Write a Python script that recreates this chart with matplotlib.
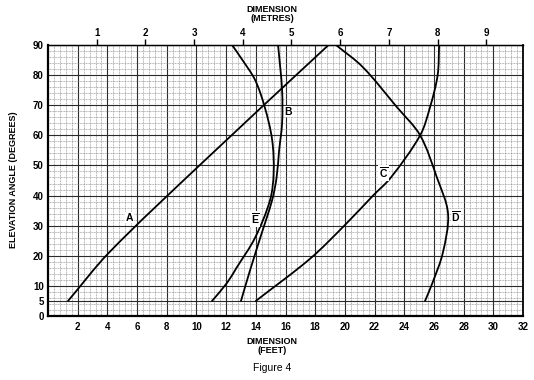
import numpy as np
import matplotlib
matplotlib.use("Agg")
import matplotlib.pyplot as plt
from matplotlib.path import Path
from matplotlib.patches import PathPatch
from matplotlib.ticker import FixedLocator, MultipleLocator

plt.rcParams['font.family'] = ['Liberation Sans', 'DejaVu Sans']
plt.rcParams['mathtext.fontset'] = 'custom'
plt.rcParams['mathtext.bf'] = 'Liberation Sans:bold'
plt.rcParams['mathtext.rm'] = 'Liberation Sans'

# curve data: (dimension in feet, elevation angle in degrees)
a_ft = [1.35, 4.1, 10.2, 18.9]
a_deg = [5, 21, 50, 90]

b_ft = [13.0, 13.6, 14.3, 15.1, 15.4, 15.57, 15.77, 15.77, 15.5]
b_deg = [5, 15, 26, 38.5, 46, 55, 64, 75, 90]

c_ft = [14.0, 17.65, 20.0, 21.9, 23.1, 25.07, 25.74, 26.25, 26.35]
c_deg = [5, 19, 30.2, 40, 46, 60, 69.4, 80, 90]

d_ft = [25.4, 25.9, 26.6, 26.95, 26.2, 25.07, 23.5, 21.2, 19.4]
d_deg = [5, 11, 21, 34, 46, 60, 69.4, 82.7, 90]

e_ft = [11.05, 12.06, 12.7, 13.95, 14.96, 15.2, 15.1, 14.6, 13.95, 13.1, 12.4]
e_deg = [5, 11, 16, 26, 38.5, 47.5, 58.5, 69.4, 78.4, 85, 90]

# curve labels and where they sit
label_names = ['A', 'B', r'$\overline{\mathbf{C}}$', r'$\overline{\mathbf{D}}$', r'$\overline{\mathbf{E}}$']
label_ft = [5.5, 16.2, 22.6, 27.5, 13.95]
label_deg = [32.6, 67.8, 47.5, 33.0, 32.2]

ft_ticks = list(range(2, 33, 2))
deg_ticks = [0, 5, 10, 20, 30, 40, 50, 60, 70, 80, 90]
m_ticks = list(range(1, 10))
FT_PER_M = 3.2808


def smooth_path(xs, ys, sx=14.8, sy=3.0):
    # chord-length hermite spline through the read points (bezier segments)
    p = np.column_stack([xs, ys]).astype(float)
    q = p * [sx, sy]
    t = np.concatenate([[0], np.cumsum(np.hypot(*np.diff(q, axis=0).T))])
    n = len(p)
    m = np.zeros_like(p)
    for i in range(n):
        lo, hi = max(i - 1, 0), min(i + 1, n - 1)
        m[i] = (p[hi] - p[lo]) / (t[hi] - t[lo])
    verts = [p[0]]
    codes = [Path.MOVETO]
    for i in range(n - 1):
        h = t[i + 1] - t[i]
        verts += [p[i] + m[i] * h / 3, p[i + 1] - m[i + 1] * h / 3, p[i + 1]]
        codes += [Path.CURVE4] * 3
    return Path(verts, codes)


fig = plt.figure(figsize=(5.34, 3.80), dpi=100)
ax = fig.add_axes([48 / 534, 64 / 380, 475 / 534, 271 / 380])

ax.set_xlim(0, 32)
ax.set_ylim(0, 90)

# graph paper grid
ax.xaxis.set_minor_locator(MultipleLocator(0.4))
ax.yaxis.set_minor_locator(FixedLocator(list(np.arange(0, 91, 2)) + [5]))
ax.xaxis.set_major_locator(FixedLocator(ft_ticks))
ax.yaxis.set_major_locator(FixedLocator(deg_ticks))
ax.grid(which='minor', color='#858585', lw=0.45, ls=(0, (1.5, 1)))
ax.grid(which='major', color='#2a2a2a', lw=0.8)
ax.set_axisbelow(True)

for xs, ys in [(a_ft, a_deg), (b_ft, b_deg), (c_ft, c_deg), (d_ft, d_deg), (e_ft, e_deg)]:
    ax.add_patch(PathPatch(smooth_path(xs, ys), fc='none', ec='black', lw=1.3,
                           capstyle='round', zorder=3))

for name, x, y in zip(label_names, label_ft, label_deg):
    ax.text(x, y, name, fontsize=7.5, fontweight='bold', ha='center', va='center',
            zorder=4, bbox=dict(fc='white', ec='none', pad=0.3))

ax.set_xticklabels([str(t) for t in ft_ticks])
ax.set_yticklabels([str(t) for t in deg_ticks])
ax.tick_params(which='both', length=0)
ax.tick_params(axis='x', pad=4)
ax.tick_params(axis='y', pad=3)
for lab in ax.get_xticklabels() + ax.get_yticklabels():
    lab.set_fontsize(7)
    lab.set_fontweight('bold')

for side, lw in [('left', 1.6), ('bottom', 1.6), ('right', 1.3), ('top', 1.0)]:
    ax.spines[side].set_linewidth(lw)
    ax.spines[side].set_color('black')

# metres along the top
top = ax.secondary_xaxis('top', functions=(lambda x: x / FT_PER_M, lambda m: m * FT_PER_M))
top.set_xticks(m_ticks)
top.set_xticklabels([str(m) for m in m_ticks], fontsize=7, fontweight='bold')
top.tick_params(length=4, width=1.0, pad=1)

fig.text(272 / 534, 1 - 14 / 380, 'DIMENSION\n(METRES)', ha='center', va='center',
         fontsize=6.5, fontweight='bold', linespacing=0.95)
fig.text(272 / 534, 1 - 346 / 380, 'DIMENSION\n(FEET)', ha='center', va='center',
         fontsize=6.5, fontweight='bold', linespacing=0.95)
fig.text(272 / 534, 1 - 368 / 380, 'Figure 4', ha='center', va='center', fontsize=7.5)
fig.text(14 / 534, 1 - 180 / 380, 'ELEVATION ANGLE (DEGREES)', ha='center', va='center',
         rotation=90, fontsize=6.5, fontweight='bold')

fig.savefig('out.png', dpi=100, facecolor='white')
